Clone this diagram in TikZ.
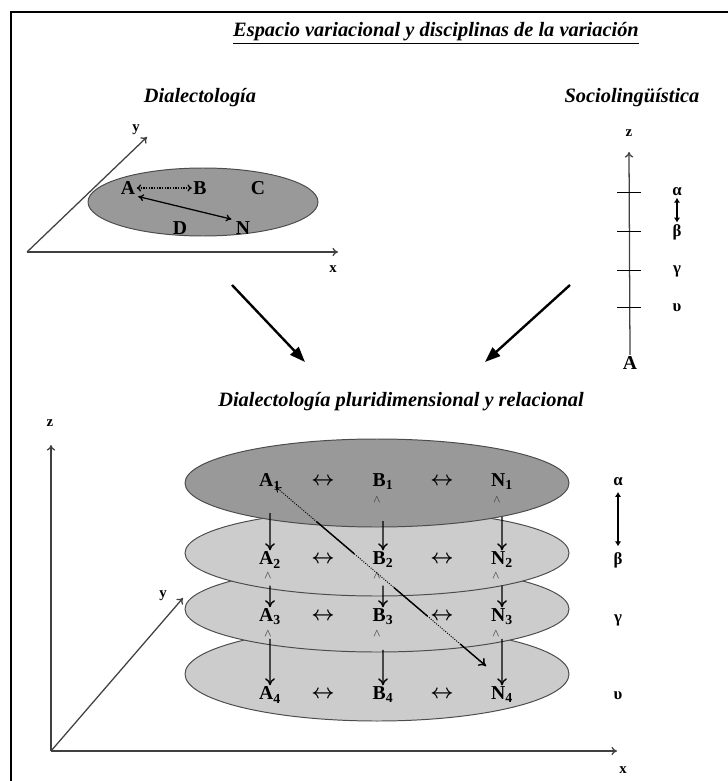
\documentclass[tikz,border=0pt]{standalone}
\usepackage{fontspec}
\setmainfont{Liberation Serif}
\usetikzlibrary{arrows.meta,positioning,calc}

\begin{document}
\begin{tikzpicture}[x=0.025cm, y=-0.025cm,
    % text styles
    heading/.style={font=\fontsize{14.5}{16}\selectfont\bfseries\itshape, inner sep=1pt},
    axlabel/.style={font=\fontsize{10.5}{12}\selectfont\bfseries, inner sep=1pt},
    point/.style={font=\fontsize{14}{15}\selectfont\bfseries, inner sep=1pt},
    link/.style={font=\fontsize{14}{15}\selectfont\boldmath, inner sep=1pt},
    level/.style={font=\fontsize{12}{13}\selectfont\bfseries, inner sep=1pt},
    caret/.style={font=\fontsize{10}{11}\selectfont, inner sep=0pt, text=black!75},
    % line styles
    axis/.style={draw=black!75, line width=0.9pt, -{To[length=4pt,width=6pt]}},
    plane/.style={draw=black!70, line width=0.7pt, fill=black!20},
    darkplane/.style={plane, fill=black!40},
    bigarrow/.style={line width=1.7pt, -{Triangle[length=11pt,width=8pt]}},
    drop/.style={line width=1pt, -{To[length=5pt,width=7pt]}},
    swap/.style={line width=0.9pt, {Latex[length=3.5pt,width=4.5pt]}-{Latex[length=3.5pt,width=4.5pt]}}
]
\useasboundingbox (0,0) rectangle (728,781);

% frame
\draw[line width=1.2pt] (11,781) -- (11,12) -- (728,12);

% headings
\node[heading] (title) at (436,33) {\underline{Espacio variacional y disciplinas de la variación}};
\node[heading] (dialecto) at (200,98) {Dialectología};
\node[heading] (socio) at (632,98) {Sociolingüística};

% Dialectologia: plane x-y
\coordinate (o1) at (27,252);
\coordinate (ytip1) at (147,137);
\coordinate (xtip1) at (338,252);
\filldraw[darkplane] (203,202) ellipse [x radius=115, y radius=34];
\draw[axis] (o1) -- (ytip1);
\draw[axis] (o1) -- (xtip1);
\node[axlabel] (ylab1) at (136,130) {y};
\node[axlabel] (xlab1) at (333,269) {x};

\node[point] (pA) at (128,188) {A};
\node[point] (pB) at (200,188) {B};
\node[point] (pC) at (258,188) {C};
\node[point] (pD) at (180,228) {D};
\node[point] (pN) at (243,228) {N};
\draw[densely dotted, line width=0.9pt, {To[length=3pt,width=5pt]}-{To[length=3pt,width=5pt]}] (pA) -- (pB);
\draw[line width=0.9pt, {To[length=4pt,width=5pt]}-{To[length=4pt,width=5pt]}, shorten <=1pt, shorten >=2pt] (pA.south east) -- (pN.north west);

% Sociolinguistica: axis z
\node[point] (sA) at (630,363) {A};
\coordinate (ztip1) at (629,152);
\draw[axis] (sA.north) -- (ztip1);
\node[axlabel] (zlab1) at (629,133) {z};
\foreach \y in {192,231,270,307}
    \draw[line width=0.6pt] (617,\y) -- (641,\y);
\node[level] (sal) at (677,192) {α};
\node[level] (sbe) at (677,232) {β};
\node[level] (sga) at (677,271) {γ};
\node[level] (sup) at (677,308) {υ};
\draw[swap] (sal.south) -- (sbe.north);

% arrows to the synthesis
\coordinate (fromD) at (232,285);
\coordinate (toD) at (305,362);
\coordinate (fromS) at (570,285);
\coordinate (toS) at (485,362);
\draw[bigarrow] (fromD) -- (toD);
\draw[bigarrow] (fromS) -- (toS);

\node[heading] (pluri) at (401,402) {Dialectología pluridimensional y relacional};

% axes x-y-z
\coordinate (o2) at (51,751);
\coordinate (ztip2) at (51,445);
\coordinate (ytip2) at (183,598);
\coordinate (xtip2) at (617,751);
\draw[axis] (o2) -- (ztip2);
\draw[axis] (o2) -- (ytip2);
\draw[axis] (o2) -- (xtip2);
\node[axlabel] (zlab2) at (50,423) {z};
\node[axlabel] (ylab2) at (163,596) {y};
\node[axlabel] (xlab2) at (623,770) {x};

% planes, lowest first
\filldraw[plane] (377,674) ellipse [x radius=192, y radius=47];
\filldraw[plane] (377,609) ellipse [x radius=192, y radius=43];
\filldraw[plane] (377,553) ellipse [x radius=192, y radius=43];
\filldraw[darkplane] (377,483) ellipse [x radius=192, y radius=44];

% points on the planes
\foreach \r/\y in {1/482,2/560,3/617,4/695} {
    \node[point] (A\r) at (270,\y) {A\textsubscript{\r}};
    \node[point] (B\r) at (383,\y) {B\textsubscript{\r}};
    \node[point] (N\r) at (502,\y) {N\textsubscript{\r}};
    \node[link] (lr\r) at (323,\y) {$\leftrightarrow$};
    \node[link] (rr\r) at (442,\y) {$\leftrightarrow$};
}

% carets
\foreach \c/\x in {B/377,N/497}
    \node[caret] (k\c1) at (\x,501) {\textasciicircum};
\foreach \c/\x in {A/268,B/377,N/496} {
    \node[caret] (k\c2) at (\x,577) {\textasciicircum};
    \node[caret] (k\c3) at (\x,635) {\textasciicircum};
}

% links between levels
\draw[drop] ($(A1)!0.4!(A2)$) -- (A2.north);
\draw[drop] ($(B1)!0.5!(B2)$) -- (B2.north);
\draw[drop] ($(N1)!0.45!(N2)$) -- (N2.north);
\draw[drop] ($(A2)!0.45!(A3)$) -- (A3.north);
\draw[drop] ($(B2)!0.45!(B3)$) -- (B3.north);
\draw[drop] ($(N2)!0.45!(N3)$) -- (N3.north);
\draw[drop] ($(A3)!0.28!(A4)$) -- (A4.north);
\draw[drop] ($(B3)!0.42!(B4)$) -- (B4.north);
\draw[drop] ($(N3)!0.28!(N4)$) -- (N4.north);

% diagonal link A1 -- N4
\coordinate (dEnd) at (486,666);
\draw[densely dotted, line width=0.7pt, {To[length=4pt,width=5pt]}-, shorten <=5pt] (A1.center) -- (dEnd);
\draw[line width=1pt] ($(A1.center)!0.216!(dEnd)$) -- ($(A1.center)!0.39!(dEnd)$);
\draw[line width=1pt] ($(A1.center)!0.573!(dEnd)$) -- ($(A1.center)!0.729!(dEnd)$);
\draw[line width=1pt, -{To[length=5pt,width=7pt]}] ($(A1.center)!0.881!(dEnd)$) -- (dEnd);

% levels on the right
\node[level] (al) at (618,482) {α};
\node[level] (be) at (618,560) {β};
\node[level] (ga) at (618,620) {γ};
\node[level] (up) at (618,696) {υ};
\draw[swap, shorten <=3pt, shorten >=3pt] (al.south) -- (be.north);

\end{tikzpicture}
\end{document}
